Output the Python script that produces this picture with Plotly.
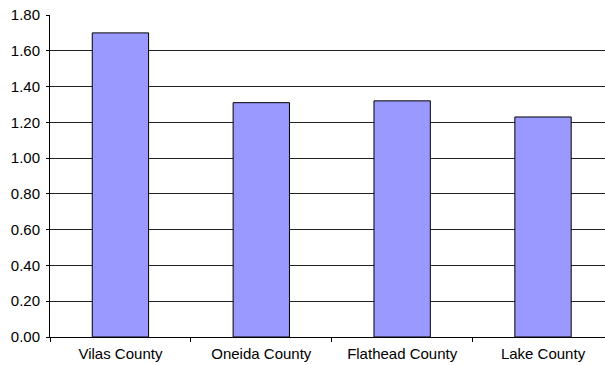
import plotly.graph_objects as go

categories = ["Vilas County", "Oneida County", "Flathead County", "Lake County"]
values = [1.70, 1.31, 1.32, 1.23]
y_ticks = [0.0, 0.2, 0.4, 0.6, 0.8, 1.0, 1.2, 1.4, 1.6, 1.8]

fig = go.Figure(go.Bar(
    x=categories, y=values,
    marker=dict(color="#9999FF", line=dict(color="black", width=1)),
    width=0.4,
))

fig.update_layout(
    width=605, height=365,
    margin=dict(l=50, r=0, t=15, b=28),
    plot_bgcolor="white", paper_bgcolor="white",
    font=dict(family="Liberation Sans, Arial, sans-serif", size=15, color="black"),
    showlegend=False,
    bargap=0.6,
)
fig.update_xaxes(
    type="category", range=[-0.5, 3.44],
    showline=True, linecolor="black", linewidth=1,
    ticks="outside", ticklen=4, tickcolor="black", tickson="boundaries",
    showgrid=False, zeroline=False, ticklabelstandoff=3,
)
fig.update_yaxes(
    range=[0, 1.8], tickvals=y_ticks, ticktext=[f"{v:.2f}" for v in y_ticks],
    showline=True, linecolor="black", linewidth=1,
    ticks="outside", ticklen=3, tickcolor="black",
    showgrid=True, gridcolor="#222222", gridwidth=1,
    zeroline=False, ticklabelstandoff=3,
)
fig.write_html("out.html")
